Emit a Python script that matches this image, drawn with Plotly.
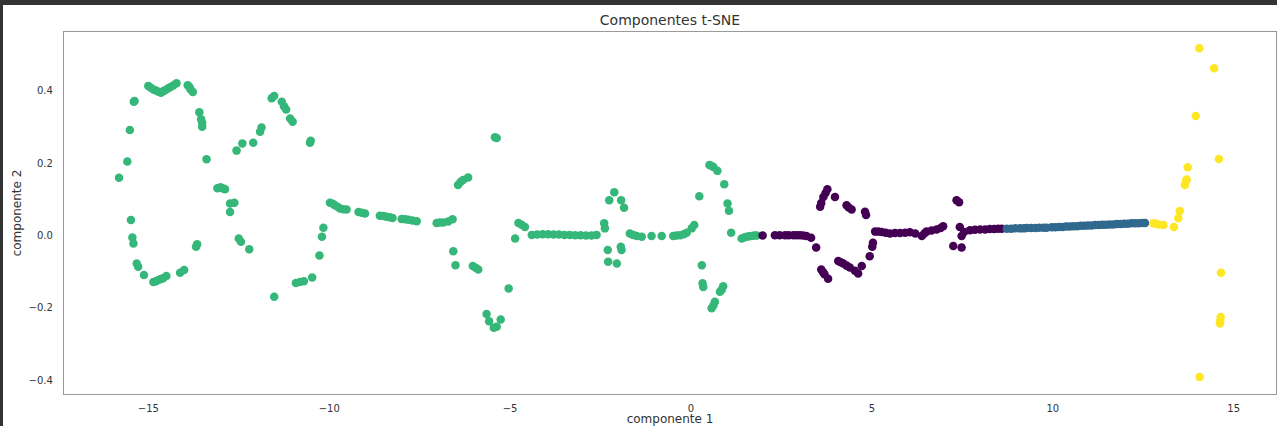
import plotly.graph_objects as go

# ---- data (t-SNE components, 4 clusters) ----
green_x = [-15.81, -15.58, -15.51, -15.40, -15.38,
           -15.00, -14.93, -14.86, -14.79, -14.72, -14.65, -14.59, -14.54, -14.47, -14.40, -14.31, -14.22,
           -13.91, -13.86, -13.83, -13.77, -13.59, -13.54, -13.51, -13.51, -13.39,
           -13.09, -13.02, -12.99, -12.93, -12.88, -12.74, -12.62, -12.74,
           -12.56, -12.40, -12.10, -11.91, -11.87, -11.59, -11.52, -11.31, -11.25, -11.19, -11.08, -11.01,
           -10.53, -10.51,
           -9.98, -9.90, -9.84, -9.76, -9.70, -9.61, -9.52, -9.19, -9.10, -9.01,
           -8.60, -8.50, -8.42, -8.33, -8.25, -8.00, -7.90, -7.81, -7.70, -7.58,
           -7.03, -6.94, -6.85, -6.71, -6.59,
           -6.44, -6.37, -6.30, -6.16, -5.42, -5.37,
           -6.57, -6.51, -6.03, -5.95, -5.88, -5.04,
           -5.65, -5.58, -5.45, -5.37, -5.26,
           -15.48, -15.44, -15.41, -15.32, -15.28, -15.12, -14.86, -14.79, -14.72, -14.65, -14.59, -14.50,
           -14.12, -14.01, -13.68, -13.65,
           -12.50, -12.44, -12.21, -11.52,
           -10.92, -10.81, -10.70, -10.47, -10.27, -10.20, -10.16,
           -4.77, -4.68, -4.59, -4.86,
           -4.40, -4.25, -4.10, -3.95, -3.80, -3.65, -3.50, -3.35, -3.20, -3.05, -2.90, -2.75, -2.61,
           -2.40, -2.38, -2.12, -2.26, -1.93, -1.85,
           -2.30, -1.94, -1.92, -2.29, -2.05,
           -1.69, -1.60, -1.50, -1.36, -1.09, -0.81,
           -0.49, -0.40, -0.30, -0.20, -0.12, 0.02, 0.09,
           0.23, 0.51, 0.56, 0.62, 0.73, 0.92, 1.01, 1.05, 1.11,
           1.40, 1.47, 1.54, 1.61, 1.68, 1.75, 1.82,
           0.30, 0.32, 0.34, 0.89, 0.85, 0.80, 0.66, 0.62, 0.57]
green_y = [0.160, 0.205, 0.292, 0.370, 0.372,
           0.414, 0.409, 0.404, 0.401, 0.398, 0.395, 0.399, 0.402, 0.406, 0.410, 0.415, 0.421,
           0.416, 0.410, 0.404, 0.397, 0.341, 0.322, 0.312, 0.301, 0.211,
           0.131, 0.133, 0.133, 0.130, 0.128, 0.089, 0.091, 0.065,
           0.235, 0.255, 0.257, 0.287, 0.299, 0.380, 0.386, 0.370, 0.358, 0.349, 0.324, 0.315,
           0.257, 0.262,
           0.091, 0.088, 0.084, 0.079, 0.075, 0.073, 0.072, 0.065, 0.063, 0.061,
           0.055, 0.054, 0.052, 0.051, 0.049, 0.046, 0.045, 0.044, 0.042, 0.040,
           0.035, 0.036, 0.036, 0.039, 0.045,
           0.140, 0.148, 0.154, 0.161, 0.272, 0.270,
           -0.043, -0.082, -0.084, -0.089, -0.094, -0.146,
           -0.217, -0.237, -0.255, -0.252, -0.232,
           0.043, -0.005, -0.022, -0.077, -0.086, -0.109, -0.128, -0.126, -0.123, -0.120, -0.118, -0.112,
           -0.103, -0.095, -0.031, -0.024,
           -0.008, -0.017, -0.038, -0.169,
           -0.131, -0.128, -0.126, -0.116, -0.055, -0.003, 0.022,
           0.035, 0.030, 0.024, -0.008,
           0.002, 0.003, 0.004, 0.004, 0.003, 0.003, 0.002, 0.002, 0.001, 0.001, 0.000, 0.000, 0.002,
           0.034, 0.020, 0.120, 0.098, 0.098, 0.077,
           -0.040, -0.031, -0.040, -0.072, -0.077,
           0.006, 0.002, -0.001, -0.003, -0.001, -0.001,
           -0.001, 0.000, 0.001, 0.004, 0.008, 0.020, 0.029,
           0.109, 0.195, 0.193, 0.190, 0.179, 0.142, 0.089, 0.069, 0.008,
           -0.008, -0.005, -0.003, -0.002, -0.001, 0.000, 0.000,
           -0.082, -0.132, -0.142, -0.140, -0.150, -0.155, -0.183, -0.193, -0.201]

purple_x = [1.98, 2.32, 2.45, 2.60, 2.70, 2.83, 2.92, 3.01, 3.10, 3.19, 3.32, 3.46,
            3.57, 3.60, 3.66, 3.72, 3.77, 3.98,
            4.30, 4.36, 4.44, 4.81, 4.84,
            3.60, 3.65, 3.69, 3.79,
            4.07, 4.14, 4.21, 4.30, 4.39, 4.53, 4.62, 4.72,
            4.94, 5.01, 5.03,
            5.09, 5.18, 5.27, 5.38, 5.50, 5.64, 5.78, 5.92, 6.05, 6.20, 6.38, 6.45, 6.51, 6.65, 6.79, 6.90, 6.97,
            7.34, 7.41, 7.43, 7.48, 7.25, 7.48,
            7.55, 7.71, 7.85, 7.99, 8.13, 8.26, 8.38, 8.49, 8.59]
purple_y = [0.000, 0.001, 0.001, 0.001, 0.001, 0.001, 0.001, 0.001, 0.000, -0.001, -0.006, -0.033,
            0.080, 0.090, 0.107, 0.118, 0.128, 0.107,
            0.084, 0.078, 0.072, 0.066, 0.057,
            -0.094, -0.101, -0.107, -0.119,
            -0.070, -0.074, -0.077, -0.083, -0.088, -0.097, -0.105, -0.084,
            -0.057, -0.031, -0.020,
            0.011, 0.011, 0.010, 0.008, 0.006, 0.007, 0.007, 0.008, 0.009, 0.006, -0.001, 0.006, 0.011, 0.014, 0.017, 0.021, 0.026,
            0.098, 0.092, 0.024, -0.001, -0.029, -0.033,
            0.010, 0.015, 0.016, 0.017, 0.017, 0.018, 0.018, 0.019, 0.019]

blue_x = [8.73, 8.85, 8.97, 9.09, 9.20, 9.28, 9.40, 9.52, 9.63, 9.75, 9.83,
          9.97, 10.07, 10.17, 10.27, 10.37, 10.47, 10.57, 10.67, 10.77, 10.87, 10.97,
          11.07, 11.17, 11.27, 11.37, 11.47, 11.57, 11.67, 11.77, 11.87, 11.97,
          12.07, 12.17, 12.27, 12.37, 12.47, 12.55]
blue_y = [0.019, 0.019, 0.020, 0.020, 0.020, 0.021, 0.021, 0.021, 0.022, 0.022, 0.022,
          0.023, 0.023, 0.024, 0.024, 0.025, 0.025, 0.026, 0.026, 0.027, 0.027, 0.028,
          0.028, 0.029, 0.029, 0.030, 0.030, 0.031, 0.031, 0.032, 0.032, 0.033,
          0.033, 0.034, 0.034, 0.034, 0.035, 0.035]

yellow_x = [12.78, 12.85, 12.92, 13.06, 13.35, 13.47, 13.51, 13.65, 13.68, 13.70, 13.73,
            13.95, 14.05, 14.46, 14.59, 14.65, 14.64, 14.63, 14.62, 14.06]
yellow_y = [0.034, 0.033, 0.031, 0.029, 0.024, 0.048, 0.068, 0.140, 0.150, 0.155, 0.189,
            0.331, 0.518, 0.463, 0.212, -0.103, -0.225, -0.235, -0.243, -0.391]

x_ticks = [-15, -10, -5, 0, 5, 10, 15]
y_ticks = [-0.4, -0.2, 0.0, 0.2, 0.4]

clusters = [
    (green_x, green_y, "#35b779"),
    (purple_x, purple_y, "#440154"),
    (blue_x, blue_y, "#31688e"),
    (yellow_x, yellow_y, "#fde725"),
]

fig = go.Figure()
for xs, ys, col in clusters:
    fig.add_trace(go.Scatter(x=xs, y=ys, mode="markers",
                             marker=dict(color=col, size=8.5, line=dict(width=0)),
                             showlegend=False))

W, H = 1277, 426
L, R, T, B = 64, 1, 32, 32
pw, ph = W - L - R, H - T - B

font = "DejaVu Sans, sans-serif"
fig.update_layout(
    width=W, height=H,
    margin=dict(l=L, r=R, t=T, b=B),
    paper_bgcolor="white", plot_bgcolor="white",
    font=dict(family=font, color="#333333", size=10),
    title=dict(text="Componentes t-SNE", x=0.5, xref="paper", xanchor="center",
               y=1 - 20 / H, yref="container", yanchor="middle",
               font=dict(size=14, color="#333333", family=font)),
    xaxis=dict(range=[-17.33, 16.17], tickvals=x_ticks, ticks="", showgrid=False, zeroline=False,
               showline=True, mirror=True, linecolor="#9a9a9a", linewidth=1.2,
               tickfont=dict(size=10, color="#333333"), ticklabelstandoff=5,
               title=dict(text="componente 1", font=dict(size=12, color="#333333"), standoff=4)),
    yaxis=dict(range=[-0.438, 0.563], tickvals=y_ticks, tickformat=".1f", ticks="", showgrid=False,
               zeroline=False, showline=True, mirror=True, linecolor="#9a9a9a", linewidth=1.2,
               tickfont=dict(size=10, color="#333333"), ticklabelstandoff=8,
               title=dict(text="componente 2", font=dict(size=12, color="#333333"), standoff=4)),
    shapes=[
        dict(type="rect", xref="paper", yref="paper", layer="above",
             x0=-L / pw, x1=(R + W) / pw, y0=1 + (T - 5) / ph, y1=1 + T / ph,
             fillcolor="#333333", line=dict(width=0)),
        dict(type="rect", xref="paper", yref="paper", layer="above",
             x0=-L / pw, x1=(3 - L) / pw, y0=-B / ph, y1=1 + T / ph,
             fillcolor="#333333", line=dict(width=0)),
    ],
)

fig.write_html("out.html", config={"displayModeBar": False},
               post_script="document.body.style.margin='0';document.body.style.overflow='hidden';")
